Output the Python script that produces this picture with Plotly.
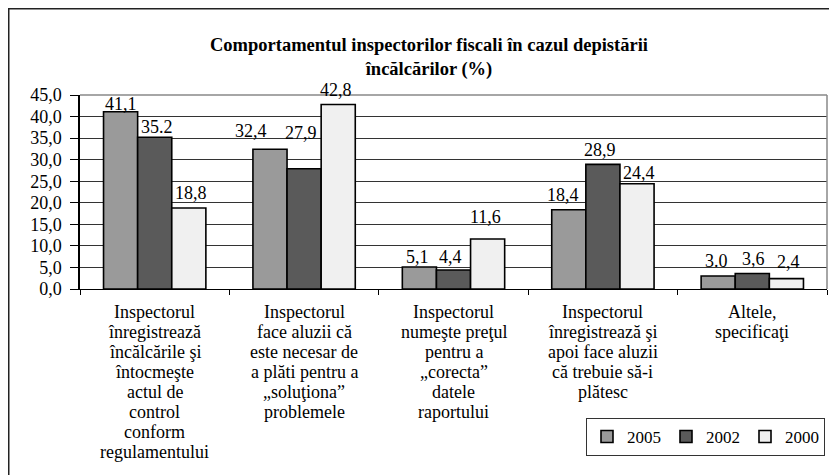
import plotly.graph_objects as go

categories = [
    "Inspectorul<br>înregistrează<br>încălcările şi<br>întocmeşte<br>actul de<br>control<br>conform<br>regulamentului",
    "Inspectorul<br>face aluzii că<br>este necesar de<br>a plăti pentru a<br>„soluţiona”<br>problemele",
    "Inspectorul<br>numeşte preţul<br>pentru a<br>„corecta”<br>datele<br>raportului",
    "Inspectorul<br>înregistrează şi<br>apoi face aluzii<br>că trebuie să-i<br>plătesc",
    "Altele,<br>specificaţi",
]
series_names = ["2005", "2002", "2000"]
values_2005 = [41.1, 32.4, 5.1, 18.4, 3.0]
values_2002 = [35.2, 27.9, 4.4, 28.9, 3.6]
values_2000 = [18.8, 42.8, 11.6, 24.4, 2.4]
labels_2005 = ["41,1", "32,4", "5,1", "18,4", "3.0"]
labels_2002 = ["35.2", "27,9", "4,4", "28,9", "3,6"]
labels_2000 = ["18,8", "42,8", "11,6", "24,4", "2,4"]
yticks = [0, 5, 10, 15, 20, 25, 30, 35, 40, 45]

colors = ["#9a9a9a", "#5a5a5a", "#f0f0f0"]
FONT = "Liberation Serif"
FS = 18

series_values = [values_2005, values_2002, values_2000]
series_labels = [labels_2005, labels_2002, labels_2000]

fig = go.Figure()
for name, vals, col in zip(series_names, series_values, colors):
    fig.add_trace(go.Bar(
        name=name, x=categories, y=vals,
        marker=dict(color=col, line=dict(color="#000000", width=1.6)),
    ))

# label placement tweaks (pixel offsets: series offset + dx, dy above bar top)
bar_px = 34
dy_default = 13
label_tweaks = {
    (0, 0): (0, 8), (0, 1): (2, 10), (0, 2): (2, 15),
    (1, 0): (-19, 18), (1, 1): (-3, 36), (1, 2): (-2, 14),
    (2, 0): (-2, 10), (2, 1): (-3, 13), (2, 2): (-2, 22),
    (3, 0): (-6, 15), (3, 1): (-3, 14), (3, 2): (2, 11),
    (4, 0): (-2, 15), (4, 1): (1, 14), (4, 2): (2, 17),
}
annotations = []
for s, (vals, labs) in enumerate(zip(series_values, series_labels)):
    for c, (v, lab) in enumerate(zip(vals, labs)):
        dx, dy = label_tweaks.get((c, s), (0, dy_default))
        annotations.append(dict(
            x=categories[c], y=v, xref="x", yref="y",
            text=lab, showarrow=False,
            xshift=(s - 1) * bar_px + dx, yshift=dy,
            yanchor="middle", xanchor="center",
            font=dict(family=FONT, size=FS, color="#000000"),
        ))

# category labels: one text line per annotation for the tight line spacing
first_line_gap, line_step = 23, 20
for c, cat in enumerate(categories):
    for k, line in enumerate(cat.split("<br>")):
        annotations.append(dict(
            x=cat, y=0, xref="x", yref="paper",
            text=line, showarrow=False,
            yshift=-(first_line_gap + line_step * k),
            yanchor="middle", xanchor="center",
            font=dict(family=FONT, size=FS, color="#000000"),
        ))

# page body has an 8px margin, so the figure is laid out 8px up/left
W, H = 829, 467
fig.update_layout(
    width=W, height=H,
    margin=dict(l=72, r=10, t=87, b=186, autoexpand=False),
    paper_bgcolor="#ffffff", plot_bgcolor="#ffffff",
    separators=",.",
    barmode="group", bargap=0.315, bargroupgap=0,
    font=dict(family=FONT, size=FS, color="#000000"),
    title=dict(
        text="<b>Comportamentul inspectorilor fiscali în cazul depistării<br>încălcărilor (%)</b>",
        x=421 / W, xref="container", xanchor="center",
        y=1 - 42.5 / H, yref="container", yanchor="middle",
        font=dict(family=FONT, size=18.5, color="#000000"),
    ),
    xaxis=dict(
        automargin=False,
        showline=True, linecolor="#000000", linewidth=1,
        ticks="outside", tickson="boundaries", ticklen=5, tickcolor="#000000",
        showgrid=False, showticklabels=False,
    ),
    yaxis=dict(
        automargin=False,
        range=[0, 45], tickvals=yticks, tickformat=".1f",
        showline=True, linecolor="#000000", linewidth=1.5,
        ticks="outside", ticklen=8, tickcolor="#000000",
        ticklabelstandoff=5,
        showgrid=True, gridcolor="#333333", gridwidth=1,
        tickfont=dict(family=FONT, size=FS), zeroline=False,
    ),
    legend=dict(
        orientation="h", x=(578 - 72) / 747, xanchor="left",
        y=(281 - 410) / 194, yanchor="top",
        bordercolor="#333333", borderwidth=1, bgcolor="#ffffff",
        font=dict(family=FONT, size=17),
        traceorder="normal",
    ),
    annotations=annotations,
    shapes=[
        dict(type="line", xref="paper", yref="paper", x0=0, x1=1, y0=1, y1=1,
             line=dict(color="#888888", width=1.5)),
        dict(type="line", xref="paper", yref="paper", x0=1, x1=1, y0=0, y1=1,
             line=dict(color="#888888", width=1.5)),
        dict(type="rect", xref="paper", yref="paper",
             x0=(0.5 - 72) / 747, x1=(840 - 72) / 747,
             y0=(281 - 480) / 194, y1=(281 - 0.5) / 194,
             line=dict(color="#222222", width=2)),
    ],
)

fig.write_html("out.html")
